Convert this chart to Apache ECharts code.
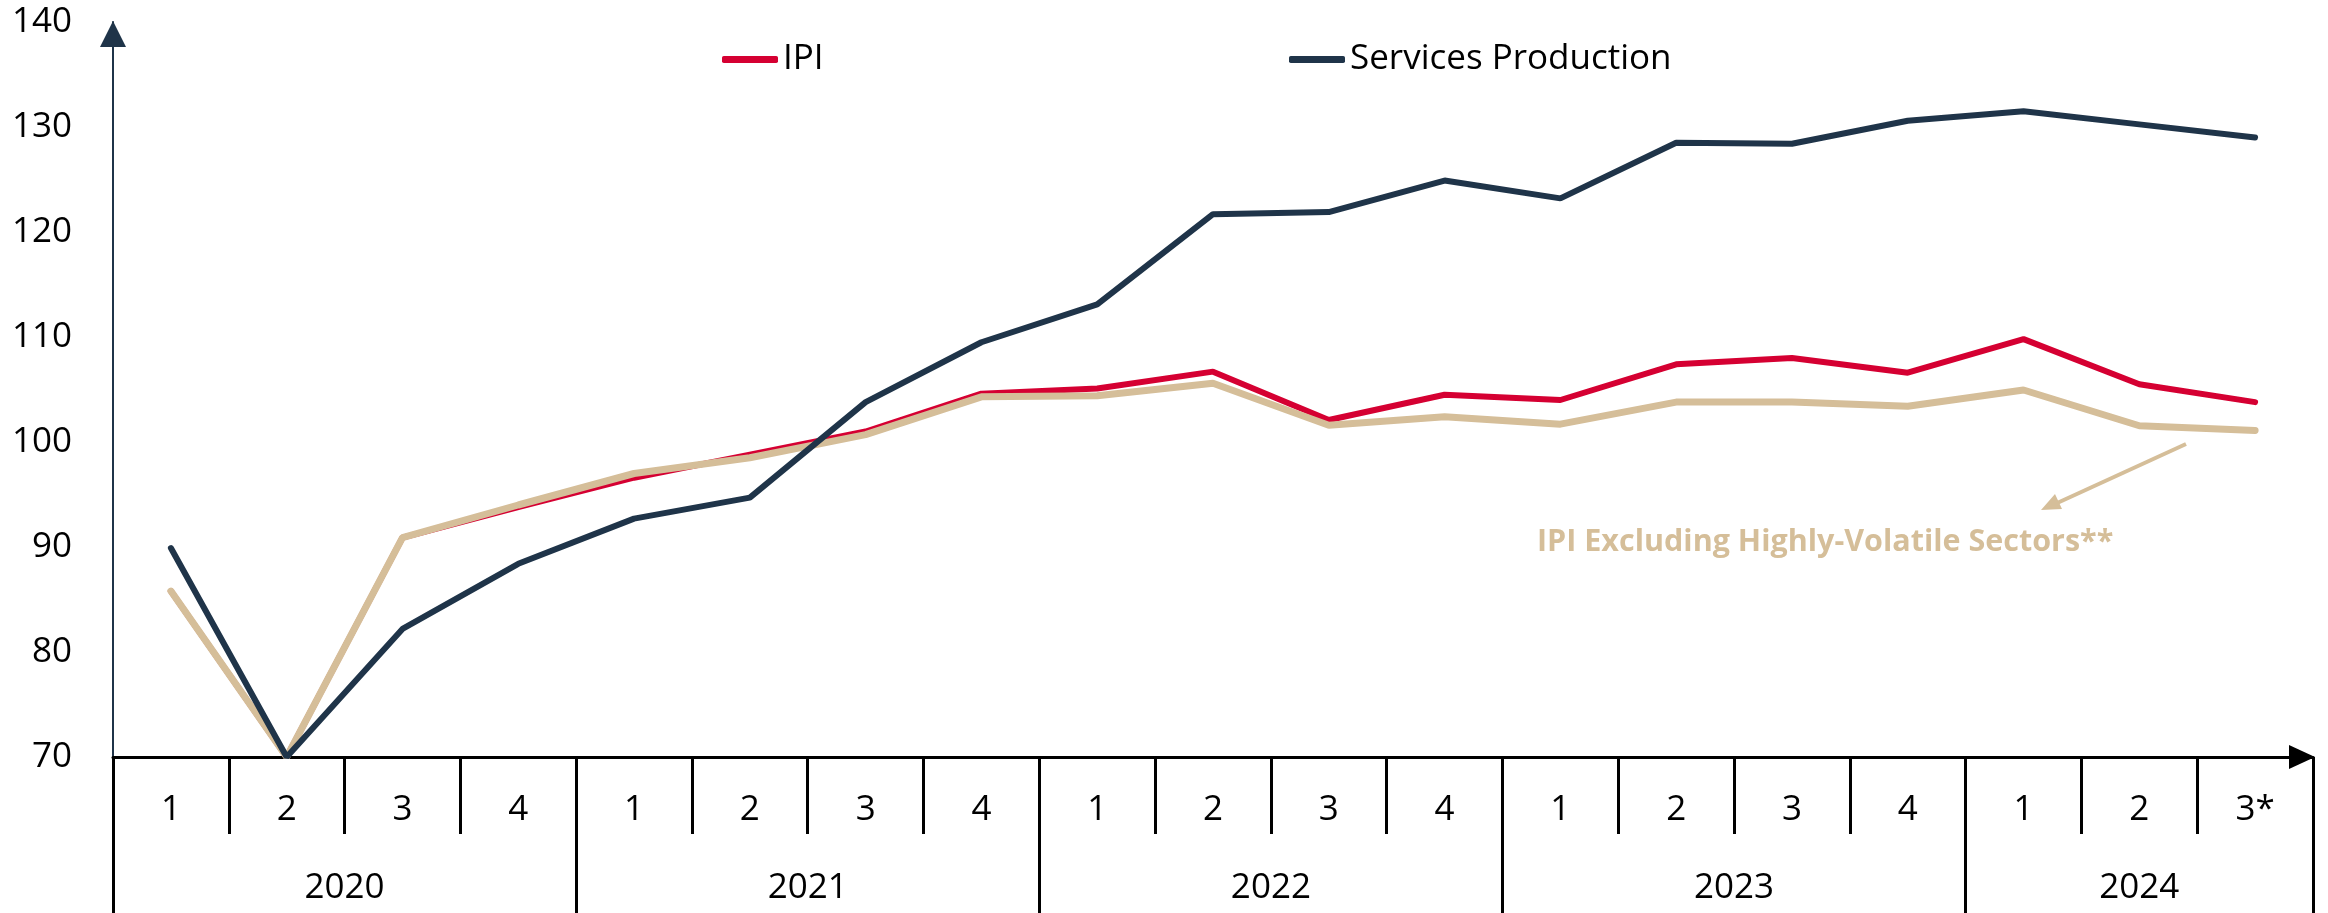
<!DOCTYPE html>
<html>
<head>
<meta charset="utf-8">
<script src="https://cdn.jsdelivr.net/npm/echarts@6/dist/echarts.min.js"></script>
<style>
html,body{margin:0;padding:0;background:#fff}
#chart{width:2328px;height:913px}
</style>
</head>
<body>
<div id="chart"></div>
<script>
// quarters on the inner axis, years on the outer one
var quarters=['1','2','3','4','1','2','3','4','1','2','3','4','1','2','3','4','1','2','3*'];
var years=['2020','2021','2022','2023','2024'];
var yearBounds=[0,4,8,12,16,19];
var yearCenters=[2,6,10,14,17.5];

var ipi=[85.8,70,90.9,93.8,96.6,98.8,101.0,104.6,105.1,106.7,102.1,104.5,104.0,107.4,108.0,106.6,109.8,105.5,103.8];
var ipiCore=[85.8,70,90.9,94.0,97.0,98.5,100.7,104.3,104.4,105.6,101.6,102.4,101.7,103.8,103.8,103.4,104.95,101.55,101.1];
var services=[89.9,70,82.2,88.4,92.7,94.7,103.8,109.5,113.1,121.7,121.9,124.9,123.2,128.5,128.4,130.6,131.5,130.25,129.0];

var RED='#d50032', NAVY='#1f3449', BEIGE='#d5be99';
var FONT='Open Sans';

var chart=echarts.init(document.getElementById('chart'));

var option={
    animation:false,
    backgroundColor:'#fff',
    textStyle:{fontFamily:FONT},
    grid:{left:113,right:15,top:22,bottom:156,containLabel:false},
    legend:[
        {
            data:['IPI'],
            left:722, top:42, padding:0,
            icon:'roundRect', itemWidth:56, itemHeight:7,
            textStyle:{fontSize:35,color:'#000',fontFamily:FONT}
        },
        {
            data:['Services Production'],
            left:1289, top:42, padding:0,
            icon:'roundRect', itemWidth:56, itemHeight:7,
            textStyle:{fontSize:35,color:'#000',fontFamily:FONT}
        }
    ],
    xAxis:[
        {
            type:'category',
            data:quarters,
            boundaryGap:true,
            position:'bottom',
            axisLine:{
                show:true,
                lineStyle:{color:'#000',width:3},
                symbol:['none','triangle'],
                symbolSize:[24,26],
                symbolOffset:[0,-11]
            },
            axisTick:{show:true,interval:0,length:77,lineStyle:{color:'#000',width:3}},
            axisLabel:{interval:0,margin:36,fontSize:35,color:'#000',fontFamily:FONT},
            splitLine:{show:false}
        },
        {
            type:'value',
            min:0, max:19,
            position:'bottom',
            axisLine:{show:false},
            axisTick:{show:true,customValues:yearBounds,length:156,lineStyle:{color:'#000',width:3}},
            axisLabel:{
                customValues:yearCenters,
                margin:114,
                fontSize:35,color:'#000',fontFamily:FONT,
                formatter:function(v){ return years[yearCenters.indexOf(v)]; }
            },
            splitLine:{show:false}
        }
    ],
    yAxis:{
        type:'value',
        min:70, max:140, interval:10,
        axisLine:{
            show:true,
            lineStyle:{color:NAVY,width:2},
            symbol:['none','triangle'],
            symbolSize:[26,26],
            symbolOffset:[0,-12]
        },
        axisTick:{show:false},
        axisLabel:{margin:41,fontSize:35,color:'#000',fontFamily:FONT},
        splitLine:{show:false}
    },
    series:[
        {
            name:'IPI', type:'line', data:ipi, xAxisIndex:0,
            symbol:'none', color:RED,
            lineStyle:{width:6,color:RED,cap:'round'}
        },
        {
            name:'IPI Excluding Highly-Volatile Sectors**', type:'line', data:ipiCore, xAxisIndex:0,
            symbol:'none', color:BEIGE,
            lineStyle:{width:7,color:BEIGE,cap:'round'}
        },
        {
            name:'Services Production', type:'line', data:services, xAxisIndex:0,
            symbol:'none', color:NAVY,
            lineStyle:{width:6,color:NAVY,cap:'round'}
        }
    ],
    graphic:[
        {
            type:'line',
            shape:{x1:2186,y1:444,x2:2055,y2:504},
            style:{stroke:BEIGE,lineWidth:4}
        },
        {
            type:'polygon',
            shape:{points:[[2041,510],[2062,509],[2055,494]]},
            style:{fill:BEIGE}
        },
        {
            type:'text',
            left:1537, top:527,
            style:{
                text:'IPI Excluding Highly-Volatile Sectors**',
                fill:BEIGE,
                font:'bold 30.5px "Open Sans"'
            }
        }
    ]
};

chart.setOption(option);
</script>
</body>
</html>
